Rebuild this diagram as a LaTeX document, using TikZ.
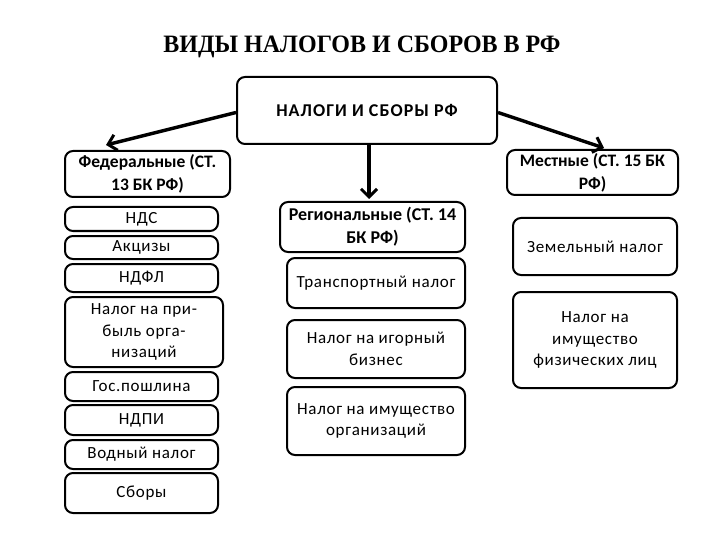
\documentclass[tikz,border=0pt]{standalone}
\usepackage{fontspec}
\setmainfont{Carlito}
\newfontfamily\spaced[LetterSpace=4]{Carlito}
\newfontfamily\titlefont{Liberation Serif}
\usetikzlibrary{arrows.meta}
\begin{document}
\begin{tikzpicture}[x=1pt,y=-1pt,
  box/.style={draw=black,line width=2pt,rounded corners=8pt,inner sep=0pt,align=center,font=\spaced\fontsize{17}{21.5}\selectfont,fill=white},
  hbox/.style={box,font=\fontsize{17.5}{23}\selectfont\bfseries},
  arr/.style={line width=3.4pt,-{Straight Barb[length=8pt,width=16pt,line width=3pt]}}]
\useasboundingbox (0,0) rectangle (720,540);
\node[font=\titlefont\fontsize{25}{28}\selectfont\bfseries] (title) at (362,47) {\scalebox{0.96}[1]{ВИДЫ НАЛОГОВ И СБОРОВ В РФ}};
\node[hbox,font=\fontsize{18}{23}\selectfont\bfseries\addfontfeature{LetterSpace=6},minimum width=260pt,minimum height=67pt] (main) at (367,110.5) {НАЛОГИ И СБОРЫ РФ};
\node[hbox,minimum width=165pt,minimum height=46pt] (fed) at (147.5,174) {Федеральные (СТ.\\13 БК РФ)};
\node[box,minimum width=153pt,minimum height=24pt] (nds) at (141.5,219) {НДС};
\node[box,minimum width=153pt,minimum height=23pt] (akc) at (141.5,247.5) {Акцизы};
\node[box,minimum width=153pt,minimum height=28pt] (ndfl) at (141.5,278) {НДФЛ};
\node[box,minimum width=158pt,minimum height=70pt] (prib) at (144,332) {Налог на при-\\быль орга-\\низаций};
\node[box,minimum width=153pt,minimum height=29pt] (gos) at (141.5,386.5) {Гос.пошлина};
\node[box,minimum width=153pt,minimum height=30pt] (ndpi) at (141.5,420) {НДПИ};
\node[box,minimum width=153pt,minimum height=29pt] (vod) at (141.5,454.5) {Водный налог};
\node[box,minimum width=153pt,minimum height=40pt] (sbor) at (141.5,493) {Сборы};
\node[hbox,font=\fontsize{18}{23}\selectfont\bfseries,minimum width=185pt,minimum height=50pt] (reg) at (372.5,227) {Региональные (СТ. 14\\БК РФ)};
\node[box,minimum width=178pt,minimum height=50pt] (trans) at (376,283) {Транспортный налог};
\node[box,minimum width=178pt,minimum height=58pt] (igor) at (376,349) {Налог на игорный\\бизнес};
\node[box,minimum width=178pt,minimum height=68pt] (imorg) at (376,421) {Налог на имущество\\организаций};
\node[hbox,minimum width=171pt,minimum height=45pt] (mest) at (592.5,172.5) {Местные (СТ. 15 БК\\РФ)};
\node[box,minimum width=164pt,minimum height=57pt] (zem) at (595,246.5) {Земельный налог};
\node[box,minimum width=164pt,minimum height=96pt] (imfiz) at (595,340) {Налог на\\имущество\\физических лиц};
\coordinate (fedtip) at (106,145);
\coordinate (mesttip) at (604,148);
\coordinate (regtip) at (369,199);
\draw[arr] ([yshift=-2pt]main.west) -- (fedtip);
\draw[arr] ([yshift=-2pt]main.east) -- (mesttip);
\draw[arr] (main.south -| regtip) -- (regtip);
\end{tikzpicture}
\end{document}
